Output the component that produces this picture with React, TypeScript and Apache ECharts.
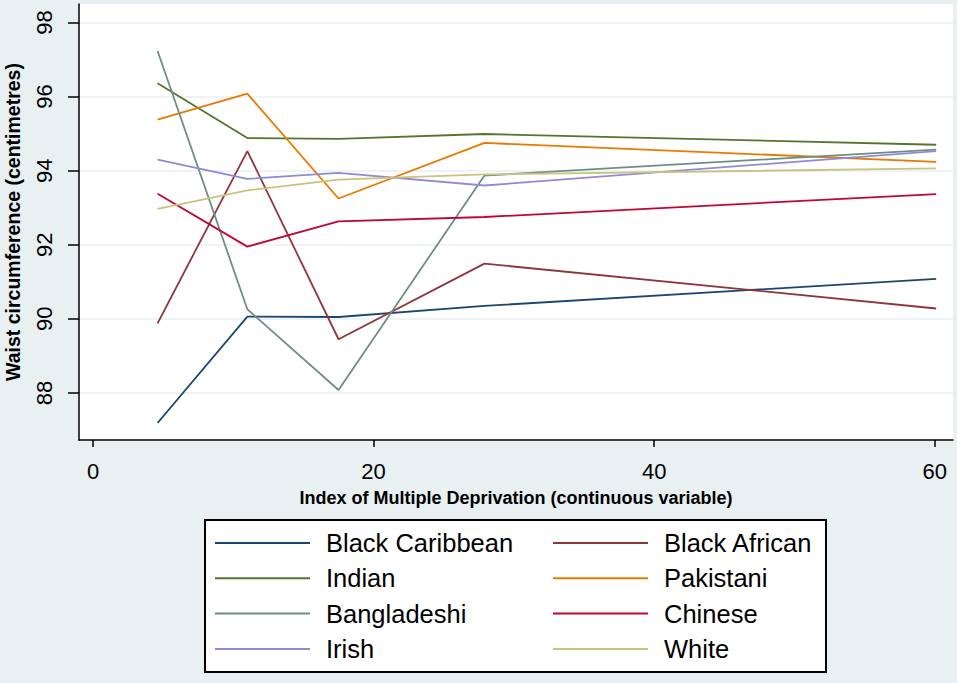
import React, { useEffect, useRef } from "react";
import * as echarts from "echarts";

const xValues = [4.6, 11.0, 17.5, 27.9, 60.1];
const xTicks = [0, 20, 40, 60];
const yTicks = [88, 90, 92, 94, 96, 98];

const seriesNames = [
  "Black Caribbean",
  "Black African",
  "Indian",
  "Pakistani",
  "Bangladeshi",
  "Chinese",
  "Irish",
  "White",
];
const seriesColors = [
  "#1a476f",
  "#90353b",
  "#55752f",
  "#e87a00",
  "#6e8e84",
  "#c10534",
  "#8f8ad6",
  "#cac27e",
];
const blackCaribbean = [87.19, 90.06, 90.05, 90.35, 91.08];
const blackAfrican = [89.88, 94.53, 89.45, 91.49, 90.28];
const indian = [96.36, 94.88, 94.86, 94.99, 94.7];
const pakistani = [95.38, 96.08, 93.25, 94.75, 94.24];
const bangladeshi = [97.23, 90.26, 88.08, 93.87, 94.57];
const chinese = [93.38, 91.95, 92.63, 92.75, 93.37];
const irish = [94.3, 93.78, 93.94, 93.6, 94.53];
const white = [92.97, 93.47, 93.76, 93.9, 94.06];

const seriesValues = [
  blackCaribbean,
  blackAfrican,
  indian,
  pakistani,
  bangladeshi,
  chinese,
  irish,
  white,
];

const legendCol1 = ["Black Caribbean", "Indian", "Bangladeshi", "Irish"];
const legendCol2 = ["Black African", "Pakistani", "Chinese", "White"];

const FONT = "'Liberation Sans', Arial, sans-serif";
const BG = "#e8f0f2";
const GRID = "#e8f0f2";

export default function App() {
  const ref = useRef<HTMLDivElement>(null);

  useEffect(() => {
    if (!ref.current) return;
    const chart = echarts.init(ref.current, undefined, { renderer: "svg" });

    const legendBase = {
      orient: "vertical" as const,
      top: 528,
      padding: 0,
      itemGap: 5.3,
      itemWidth: 95,
      itemHeight: 2,
      icon: "rect",
      selectedMode: false,
      textStyle: {
        fontFamily: FONT,
        fontSize: 25.5,
        color: "#000",
        lineHeight: 30,
        padding: [0, 0, 0, 11],
      },
    };

    chart.setOption({
      animation: false,
      backgroundColor: BG,
      color: seriesColors,
      grid: {
        left: 79,
        top: 4,
        right: 4,
        bottom: 243,
        show: true,
        backgroundColor: "#fff",
        borderWidth: 0,
        containLabel: false,
        outerBoundsMode: "none",
      },
      xAxis: {
        type: "value",
        min: -1,
        max: 61.3,
        name: "Index of Multiple Deprivation (continuous variable)",
        nameLocation: "middle",
        nameGap: 49,
        nameTextStyle: {
          fontFamily: FONT,
          fontSize: 18,
          fontWeight: "bold",
          color: "#000",
        },
        axisLine: { show: true, onZero: false, lineStyle: { color: "#000", width: 1.5 } },
        axisTick: {
          show: true,
          length: 7,
          customValues: xTicks,
          lineStyle: { color: "#000", width: 1.5 },
        },
        axisLabel: {
          customValues: xTicks,
          fontFamily: FONT,
          fontSize: 22,
          color: "#000",
          margin: 20,
        },
        splitLine: { show: false },
      },
      yAxis: {
        type: "value",
        min: 86.73,
        max: 98.5,
        name: "Waist circumference (centimetres)",
        nameLocation: "middle",
        nameGap: 56,
        nameRotate: 90,
        nameTextStyle: {
          fontFamily: FONT,
          fontSize: 19.5,
          fontWeight: "bold",
          color: "#000",
        },
        axisLine: { show: true, onZero: false, lineStyle: { color: "#000", width: 1.5 } },
        axisTick: {
          show: true,
          length: 11,
          customValues: yTicks,
          lineStyle: { color: "#000", width: 1.5 },
        },
        axisLabel: {
          customValues: yTicks,
          rotate: 90,
          fontFamily: FONT,
          fontSize: 22,
          color: "#000",
          margin: 24,
        },
        splitLine: { show: true, lineStyle: { color: GRID, width: 1.5 } },
      },
      legend: [
        { ...legendBase, left: 215, data: legendCol1 },
        { ...legendBase, left: 553, data: legendCol2 },
      ],
      graphic: [
        {
          type: "rect",
          z: -1,
          shape: { x: 205, y: 520, width: 621, height: 152 },
          style: { fill: "#fff", stroke: "#000", lineWidth: 2 },
        },
      ],
      series: seriesNames.map((name, i) => ({
        name,
        type: "line",
        data: xValues.map((x, j) => [x, seriesValues[i][j]]),
        showSymbol: false,
        symbol: "none",
        lineStyle: { width: 1.8, color: seriesColors[i] },
        itemStyle: { color: seriesColors[i] },
      })),
    });

    return () => chart.dispose();
  }, []);

  return (
    <div
      ref={ref}
      style={{ position: "fixed", left: 0, top: 0, width: 957, height: 683 }}
    />
  );
}
